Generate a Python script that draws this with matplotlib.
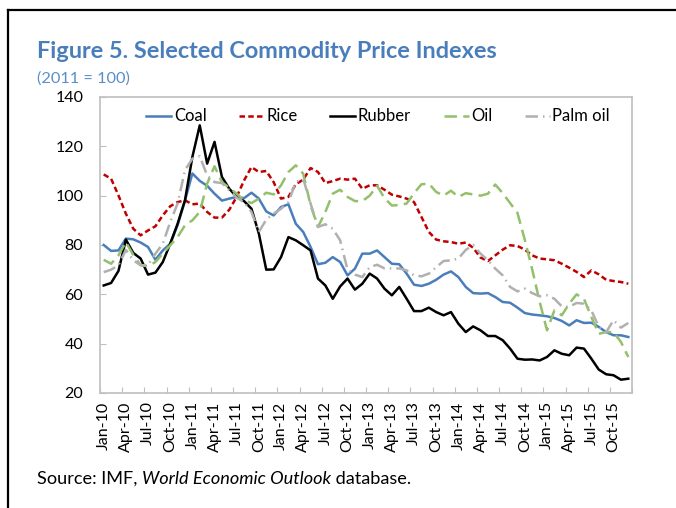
import numpy as np
import matplotlib
matplotlib.use("Agg")
import matplotlib.pyplot as plt
from matplotlib.lines import Line2D

plt.rcParams['font.family'] = ['Lato', 'DejaVu Sans']

# Monatsdaten Jan-10 bis Dez-15 (2011 = 100)
months = ['Jan', 'Feb', 'Mar', 'Apr', 'May', 'Jun', 'Jul', 'Aug', 'Sep', 'Oct', 'Nov', 'Dec']
years = ['10', '11', '12', '13', '14', '15']
dates = [m + '-' + y for y in years for m in months]

coal = [80, 77.6, 77.8, 82.6, 82.3, 81, 79.2, 74, 77.8, 80.5, 88, 98,
        109, 106, 104, 100.8, 98, 98.8, 99.5, 99, 101.2, 98.8, 93.6, 92,
        95.4, 96.5, 88.6, 85.3, 79.2, 72.2, 72.8, 75.1, 73.1, 67.7, 70.4, 76.5,
        76.5, 77.8, 75.1, 72.4, 72.2, 68.4, 63.9, 63.4, 64.3, 65.9, 68, 69.3,
        67, 63, 60.5, 60.3, 60.5, 58.9, 56.9, 56.6, 54.6, 52.4, 51.8, 51.5,
        51.1, 50.4, 49.2, 47.4, 49.5, 48.4, 48.5, 46.8, 44.7, 43.4, 43.4, 42.7]
rice = [108.6, 106.9, 100.1, 92.7, 86.6, 83.9, 85.9, 87.6, 92, 95.7, 97.4, 98.1,
        96.5, 96.8, 93.4, 91.1, 91.1, 94.3, 99.5, 106.2, 111.6, 109.6, 110, 105.5,
        98.8, 99.5, 104.6, 106.5, 111.2, 109.6, 105.1, 105.9, 106.9, 106.5, 106.9, 102.8,
        104.2, 104.2, 102.4, 100.4, 99.7, 98.8, 97.4, 91.4, 85.3, 82.2, 81.5, 81.2,
        80.5, 81, 78.9, 74.9, 73.5, 75.8, 78.1, 79.9, 79.6, 78.1, 75.8, 74.5,
        74.2, 73.8, 72.4, 70.8, 69.1, 67, 69.7, 68.1, 65.9, 65.4, 65, 64.3]
rubber = [63.6, 64.6, 69.5, 82.2, 76.8, 74.5, 68, 68.8, 73.1, 80.5, 88.6, 98.1,
          115.7, 128.5, 113, 121.8, 107.6, 102.8, 99.5, 97.8, 94.7, 84.6, 70, 70.1,
          75.1, 83.2, 81.9, 79.9, 77.8, 66.4, 63.6, 58.2, 63.2, 66.4, 61.9, 64.3,
          68.4, 66.4, 62.3, 59.6, 63, 58.2, 53.2, 53.2, 54.6, 52.8, 51.5, 52.8,
          48.1, 44.7, 47, 45.4, 43.1, 43.1, 41.4, 38, 33.9, 33.5, 33.6, 33.2,
          34.6, 37.3, 35.9, 35.3, 38.4, 38, 33.9, 29.5, 27.6, 27.2, 25.4, 25.8]
oil = [74, 72.4, 75.8, 81.2, 76, 71.8, 71.4, 73.1, 76.5, 79.9, 83.2, 88,
       90, 93.4, 104.9, 111.9, 105.5, 103.2, 100.8, 98.1, 97, 98.8, 101.2, 100.5,
       104.2, 109.6, 112.3, 108.9, 96.1, 87.3, 93.4, 100.8, 102.4, 99.5, 97.8, 97.8,
       100, 104, 99, 96, 96.2, 96.8, 101, 104.6, 104.9, 101.5, 100, 102,
       99.5, 101, 100.5, 100, 100.8, 104.5, 101, 97, 93, 82, 70, 57,
       45.4, 53.5, 51.5, 56.2, 60, 58.2, 50.8, 44, 44.7, 44.7, 40.7, 34.6]
palm_oil = [69, 70, 71.8, 78, 73.8, 71.8, 71.8, 76.5, 80.5, 89.3, 96.8, 110.3,
            115, 116, 108.2, 105.5, 105.1, 102.2, 99.2, 97.4, 93.4, 85.3, 90.3, 92.7,
            94.7, 97.4, 105.5, 106.9, 96.8, 87.3, 88.4, 86.6, 81.9, 70, 68, 67,
            71, 72, 70.5, 70.5, 70.5, 69.7, 67.7, 67.3, 68.4, 71, 73.5, 73.8,
            74.5, 78, 80, 76.5, 73.8, 70.4, 67.7, 63, 61.2, 62.3, 60.5, 59.2,
            59.6, 58.2, 55.1, 54.9, 56.5, 56.2, 53.5, 46.8, 44.7, 49.5, 46.5, 48.4]

x = np.arange(len(dates))

fig = plt.figure(figsize=(6.76, 5.08), dpi=100)
ax = fig.add_axes([100 / 676, 1 - 393 / 508, 532 / 676, 296 / 508])

lw = 1.8
ax.plot(x, coal, color='#4A7EBB', lw=lw, label='Coal')
ax.plot(x, rice, color='#C00000', lw=lw, dashes=(2.2, 1.3), label='Rice')
ax.plot(x, rubber, color='black', lw=lw, label='Rubber')
ax.plot(x, oil, color='#92C06B', lw=lw, dashes=(5, 2.5), label='Oil')
ax.plot(x, palm_oil, color='#B0B0B0', lw=lw, dashes=(5, 2, 0.6, 2), label='Palm oil')

ax.set_xlim(-0.5, len(dates) - 0.5)
ax.set_ylim(20, 140)
ax.set_yticks(np.arange(20, 141, 20))

# Striche zwischen den Kategorien, Beschriftung auf jedem 3. Monat
ax.set_xticks(np.arange(-0.5, len(dates), 3))
ax.set_xticklabels([])
ax.set_xticks(x[::3], minor=True)
ax.set_xticklabels(dates[::3], minor=True, rotation=90, fontsize=11.5)
ax.tick_params(axis='x', which='major', direction='in', length=4, color='#BFBFBF')
ax.tick_params(axis='x', which='minor', length=0, pad=6)
ax.tick_params(axis='y', direction='in', length=4, color='#BFBFBF', labelsize=11.5, pad=12)

for sp in ax.spines.values():
    sp.set_color('#BFBFBF')
    sp.set_linewidth(1.2)

ax.legend(loc='upper center', ncol=5, frameon=False, fontsize=12,
          handlelength=1.5, handletextpad=0.15, columnspacing=1.95,
          bbox_to_anchor=(0.523, 1.012))

fig.text(37 / 676, 1 - 58 / 508, 'Figure 5. Selected Commodity Price Indexes',
         fontsize=16.9, fontweight='bold', color='#4A7EBB')
fig.text(37 / 676, 1 - 83 / 508, '(2011 = 100)', fontsize=11.8, color='#5B8DC9')
fig.text(37 / 676, 1 - 484 / 508, 'Source: IMF, ', fontsize=13.1)
fig.canvas.draw()
r = fig.canvas.get_renderer()
bb = fig.texts[-1].get_window_extent(r)
t2 = fig.text(bb.x1 / fig.bbox.width, 1 - 484 / 508, 'World Economic Outlook',
              fontsize=13.1, style='italic')
bb2 = t2.get_window_extent(r)
fig.text(bb2.x1 / fig.bbox.width, 1 - 484 / 508, ' database.', fontsize=13.1)

# Rahmen oben und links
fig.add_artist(Line2D([8 / 676, 1], [1 - 10 / 508, 1 - 10 / 508], color='black', lw=1.6))
fig.add_artist(Line2D([8 / 676, 8 / 676], [0, 1 - 10 / 508], color='black', lw=1.6))

fig.savefig('out.png', dpi=100)
